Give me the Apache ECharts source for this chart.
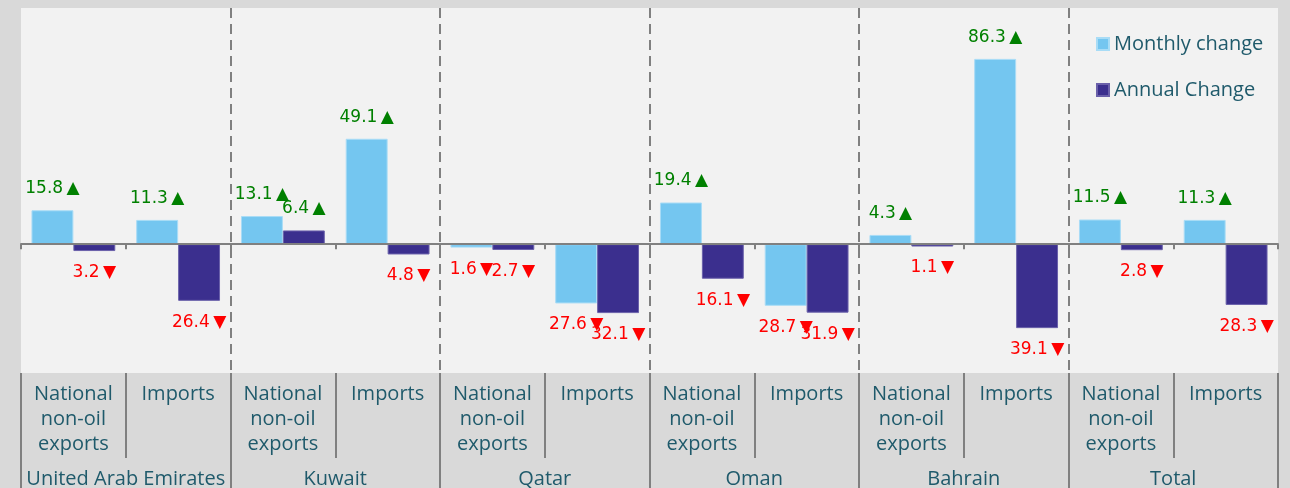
<!DOCTYPE html>
<html>
<head>
<meta charset="utf-8">
<script src="https://cdn.jsdelivr.net/npm/echarts@6/dist/echarts.min.js"></script>
<style>
  html, body { margin: 0; padding: 0; background: #d9d9d9; }
  #chart { width: 1290px; height: 488px; }
</style>
</head>
<body>
<div id="chart"></div>
<script>
const countries = ['United Arab Emirates', 'Kuwait', 'Qatar', 'Oman', 'Bahrain', 'Total'];
const flows = ['National\nnon-oil\nexports', 'Imports'];
const monthlyChange = [15.8, 11.3, 13.1, 49.1, -1.6, -27.6, 19.4, -28.7, 4.3, 86.3, 11.5, 11.3];
const annualChange = [-3.2, -26.4, 6.4, -4.8, -2.7, -32.1, -16.1, -31.9, -1.1, -39.1, -2.8, -28.3];

const subCats = countries.flatMap(() => flows);
const textColor = '#1f5a6b';
const lineColor = '#808080';
const font = 'Open Sans';
const labelFont = 'DejaVu Sans';

function withLabels(values) {
  return values.map(v => ({
    value: v,
    label: {
      position: v >= 0 ? 'top' : 'bottom',
      color: v >= 0 ? '#008000' : '#ff0000',
    },
  }));
}

function labelText(p) {
  const v = p.value;
  return Math.abs(v).toFixed(1) + '\u2009' + (v >= 0 ? '▲' : '▼');
}

const chart = echarts.init(document.getElementById('chart'));

chart.setOption({
  backgroundColor: '#d9d9d9',
  textStyle: { fontFamily: font },
  animation: false,
  legend: {
    orient: 'vertical',
    left: 1096,
    top: 34,
    padding: 0,
    itemWidth: 12,
    itemHeight: 12,
    itemGap: 26,
    icon: 'rect',
    textStyle: { fontSize: 20, color: textColor, fontFamily: font },
    data: ['Monthly change', 'Annual Change'],
  },
  grid: {
    left: 21, right: 12, top: 8, bottom: 115,
    outerBoundsMode: 'none',
    containLabel: false,
    show: true, backgroundColor: '#f2f2f2', borderWidth: 0,
  },
  xAxis: [
    {
      type: 'category',
      position: 'bottom',
      data: subCats,
      axisLine: { onZero: true, lineStyle: { color: lineColor, width: 2 } },
      axisTick: { show: true, length: 5, lineStyle: { color: lineColor, width: 2 } },
      axisLabel: { show: false },
      z: 5,
    },
    {
      type: 'category',
      position: 'bottom',
      data: subCats,
      axisLine: { show: false, onZero: false },
      axisTick: { show: true, length: 85, lineStyle: { color: lineColor, width: 2 } },
      axisLabel: {
        interval: 0, margin: 9, fontSize: 20, lineHeight: 25,
        color: textColor, fontFamily: font, align: 'center',
      },
    },
    {
      type: 'category',
      position: 'bottom',
      data: countries,
      axisLine: { show: false, onZero: false },
      axisTick: { show: true, length: 115, lineStyle: { color: lineColor, width: 2 } },
      axisLabel: { interval: 0, margin: 94, fontSize: 20, lineHeight: 25, color: textColor, fontFamily: font },
      splitLine: {
        show: true,
        showMinLine: false,
        showMaxLine: false,
        lineStyle: { color: lineColor, width: 2, type: [10, 6] },
      },
    },
  ],
  yAxis: {
    type: 'value',
    min: -60,
    max: 110,
    show: false,
    splitLine: { show: false },
  },
  series: [
    {
      name: 'Monthly change',
      type: 'bar',
      xAxisIndex: 0,
      data: withLabels(monthlyChange),
      barGap: '0%',
      barCategoryGap: '20%',
      itemStyle: { color: '#74c6f0', borderColor: '#a8dcf6', borderWidth: 1 },
      label: { show: true, distance: 13, fontSize: 17, fontFamily: labelFont, formatter: labelText },
    },
    {
      name: 'Annual Change',
      type: 'bar',
      xAxisIndex: 0,
      data: withLabels(annualChange),
      barGap: '0%',
      barCategoryGap: '20%',
      itemStyle: { color: '#3b2f8e', borderColor: '#6a60aa', borderWidth: 1 },
      label: { show: true, distance: 13, fontSize: 17, fontFamily: labelFont, formatter: labelText },
    },
  ],
});

window.addEventListener('resize', () => chart.resize());
</script>
</body>
</html>
